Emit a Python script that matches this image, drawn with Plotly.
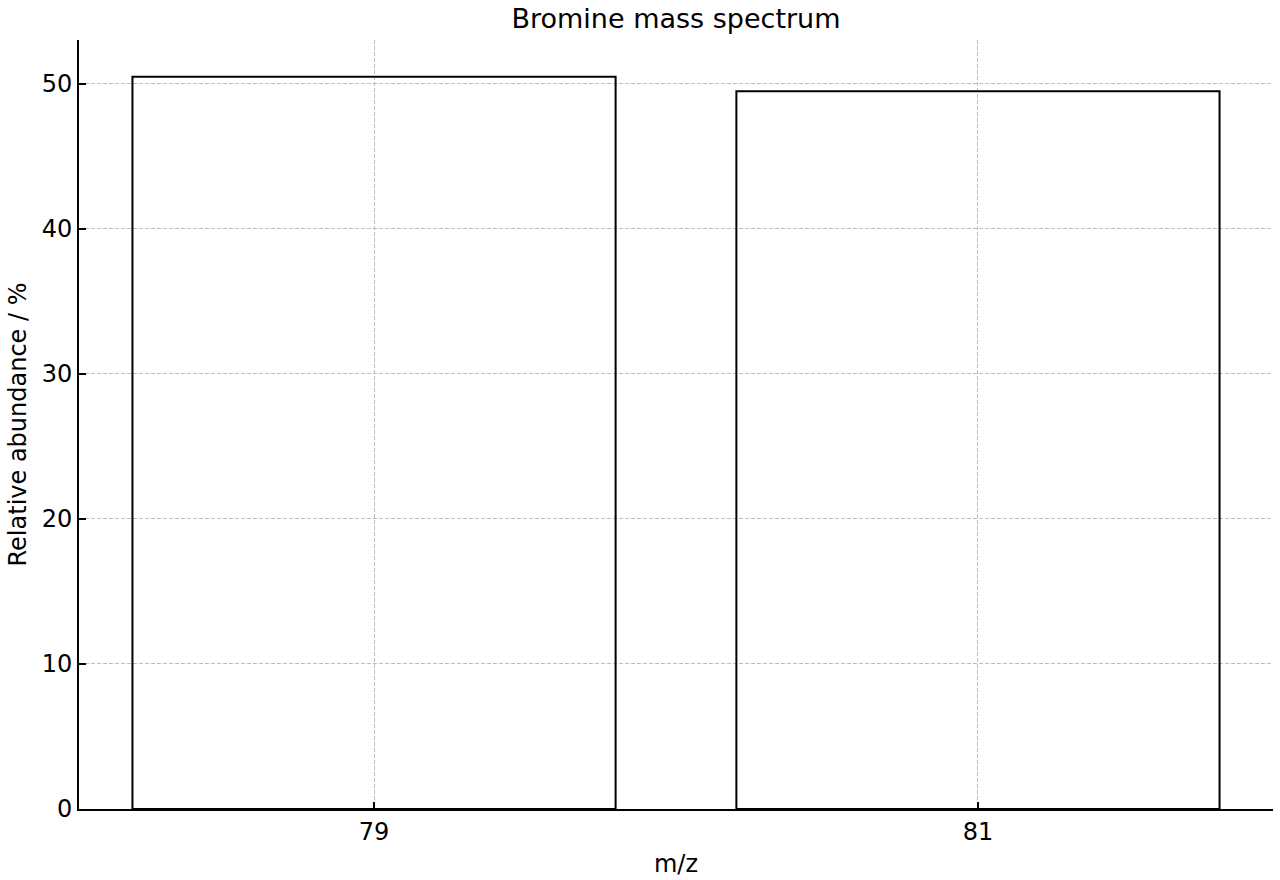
import plotly.graph_objects as go

mz = [79, 81]
abundance = [50.5, 49.5]
tick_labels = ["79", "81"]

fig = go.Figure()
fig.add_trace(go.Bar(
    x=mz, y=abundance, width=1.6,
    marker=dict(color="rgba(255,255,255,0)", line=dict(color="black", width=2)),
))

fig.update_layout(
    width=1280, height=880,
    margin=dict(l=79, r=7, t=40, b=69),
    paper_bgcolor="white", plot_bgcolor="white",
    font=dict(family="DejaVu Sans", size=24, color="black"),
    showlegend=False,
    title=dict(text="Bromine mass spectrum", x=676 / 1280,
               xanchor="center", y=1 - 19 / 880, yanchor="middle",
               font=dict(family="DejaVu Sans", size=27, color="black")),
    xaxis=dict(
        range=[78.023, 81.977], tickvals=mz, ticktext=tick_labels,
        showline=True, linecolor="black", linewidth=2,
        ticks="inside", ticklen=7, tickwidth=2, tickcolor="black",
        showgrid=True, gridcolor="#bdbdbd", griddash="4px,2px", gridwidth=1,
        zeroline=False,
        title=dict(text="m/z", font=dict(family="DejaVu Sans", size=24), standoff=10),
        tickfont=dict(family="DejaVu Sans", size=24),
    ),
    yaxis=dict(
        range=[0, 53.03], tickvals=[0, 10, 20, 30, 40, 50],
        showline=True, linecolor="black", linewidth=2,
        ticks="inside", ticklen=7, tickwidth=2, tickcolor="black",
        showgrid=True, gridcolor="#bdbdbd", griddash="4px,2px", gridwidth=1,
        zeroline=False,
        title=dict(text="Relative abundance / %", font=dict(family="DejaVu Sans", size=24), standoff=8),
        tickfont=dict(family="DejaVu Sans", size=24),
    ),
)

fig.write_html("out.html")
